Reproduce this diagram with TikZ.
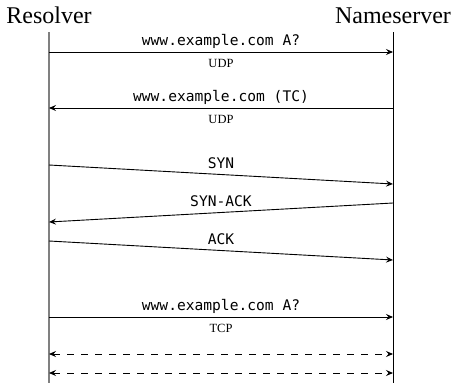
\documentclass[tikz,border=0pt]{standalone}
\usepackage{fontspec}
\setmainfont{Liberation Serif}
\setmonofont{DejaVu Sans Mono}
\usetikzlibrary{arrows.meta}

\tikzset{
	actor/.style={font=\fontsize{24}{28}\selectfont, anchor=base, inner sep=0pt},
	lifeline/.style={line width=1pt},
	msg/.style={line width=0.9pt, -{Stealth[length=7pt,width=6pt,inset=2.5pt]}},
	both/.style={line width=0.9pt, dash pattern=on 7pt off 7pt, {Stealth[length=7pt,width=6pt,inset=2.5pt]}-{Stealth[length=7pt,width=6pt,inset=2.5pt]}},
	top/.style={midway, above, inner sep=6pt, text depth=0pt, font=\ttfamily\fontsize{14.6}{16}\selectfont},
	proto/.style={midway, below, inner sep=6.5pt, font=\fontsize{12.5}{14}\selectfont}
}

\begin{document}
\begin{tikzpicture}[x=1pt,y=-1pt]
		%%%%% START %%%%%
		\useasboundingbox (0,0) rectangle (453,383);
		
		\node[actor] (res) at (49,23) {Resolver};
		\node[actor] (ns) at (393,23) {Nameserver};
		
		\coordinate (resend) at (49,383);
		\coordinate (nsend) at (393,383);
		\draw[lifeline, black!50, line width=1.3pt] ([yshift=-9pt]res.south) -- (resend);
		\draw[lifeline] ([yshift=-9pt]ns.south) -- (nsend);
		
		% udp query and truncated answer
		\coordinate (r1) at (49,52);  \coordinate (n1) at (393,52);
		\coordinate (r2) at (49,108); \coordinate (n2) at (393,108);
		\draw[msg] (r1) -- node[top]{www.example.com A?} node[proto]{UDP} (n1);
		\draw[msg] (n2) -- node[top]{www.example.com (TC)} node[proto]{UDP} (r2);
		
		% handshake
		\coordinate (r3) at (49,165); \coordinate (n3) at (393,184);
		\coordinate (n4) at (393,203); \coordinate (r4) at (49,222);
		\coordinate (r5) at (49,241); \coordinate (n5) at (393,260);
		\draw[msg] (r3) -- node[top]{SYN} (n3);
		\draw[msg] (n4) -- node[top]{SYN-ACK} (r4);
		\draw[msg] (r5) -- node[top]{ACK} (n5);
		
		% tcp query
		\coordinate (r6) at (49,317); \coordinate (n6) at (393,317);
		\draw[msg] (r6) -- node[top]{www.example.com A?} node[proto]{TCP} (n6);
		
		\coordinate (r7) at (49,354); \coordinate (n7) at (393,354);
		\coordinate (r8) at (49,373); \coordinate (n8) at (393,373);
		\draw[both] (r7) -- (n7);
		\draw[both] (r8) -- (n8);
		%%%%% END %%%%%
	\end{tikzpicture}
\end{document}
